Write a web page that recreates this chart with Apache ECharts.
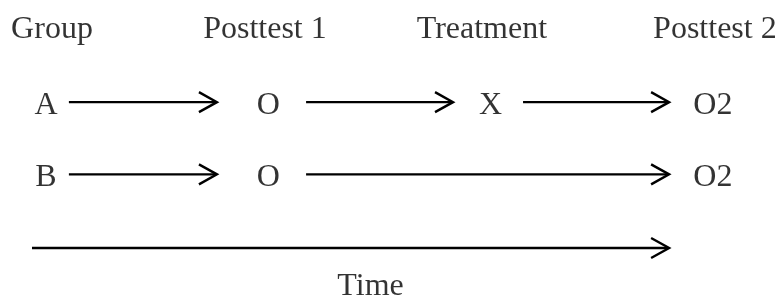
<!DOCTYPE html>
<html>
<head>
<meta charset="utf-8">
<script src="https://cdn.jsdelivr.net/npm/echarts@6/dist/echarts.min.js"></script>
<style>
  html, body { margin: 0; padding: 0; background: #fff; }
  #chart { width: 777px; height: 300px; }
</style>
</head>
<body>
<div id="chart"></div>
<script>
// Row positions (row units): header, A, B, time arrow, time label
const rowPos = [0, 1.02, 2, 3, 3.48];

// Column headers and their positions (column units)
const headers = ["Group", "Posttest 1", "Treatment", "Posttest 2"];
const headerCols = [0.027, 0.985, 1.961, 3.009];

// Group rows
const rowA = ["A", "O", "X", "O2"];
const rowACols = [0, 1, 2, 3];
const rowB = ["B", "O", "O2"];
const rowBCols = [0, 1, 3];

// Arrows: [fromCol, toCol, rowIndex]
const arrows = [
  [0.103, 0.769, 1],
  [1.17, 1.831, 1],
  [2.146, 2.803, 1],
  [0.103, 0.769, 2],
  [1.17, 2.803, 2],
  [-0.063, 2.803, 3],
];

const timeLabel = "Time";
const timeCol = 1.46;

const FONT = "'Liberation Serif', 'Times New Roman', serif";

const textPoints = [];
headers.forEach((h, i) => textPoints.push({ name: h, value: [headerCols[i], rowPos[0]] }));
rowA.forEach((t, i) => textPoints.push({ name: t, value: [rowACols[i], rowPos[1]] }));
rowB.forEach((t, i) => textPoints.push({ name: t, value: [rowBCols[i], rowPos[2]] }));
textPoints.push({ name: timeLabel, value: [timeCol, rowPos[4]] });

const chart = echarts.init(document.getElementById("chart"));

chart.setOption({
  animation: false,
  backgroundColor: "#fff",
  grid: { left: 0, right: 0, top: 0, bottom: 0 },
  xAxis: { type: "value", min: -0.2069, max: 3.2884, show: false },
  yAxis: { type: "value", min: -0.3665, max: 3.7057, inverse: true, show: false },
  series: [
    {
      type: "custom",
      data: arrows.map((a) => [a[0], a[1], rowPos[a[2]]]),
      renderItem: (params, api) => {
        const start = api.coord([api.value(0), api.value(2)]);
        const end = api.coord([api.value(1), api.value(2)]);
        const style = { stroke: "#000", lineWidth: 2.4, fill: null };
        return {
          type: "group",
          children: [
            { type: "line", shape: { x1: start[0], y1: start[1], x2: end[0] - 1, y2: end[1] }, style },
            {
              type: "polyline",
              shape: { points: [[end[0] - 18, end[1] - 10], [end[0], end[1]], [end[0] - 18, end[1] + 10]] },
              style,
            },
          ],
        };
      },
    },
    {
      type: "scatter",
      symbolSize: 0,
      data: textPoints,
      label: {
        show: true,
        position: "inside",
        offset: [0, 3],
        formatter: (p) => p.name,
        color: "#000",
        fontFamily: FONT,
        fontSize: 32,
      },
    },
  ],
});
</script>
</body>
</html>
